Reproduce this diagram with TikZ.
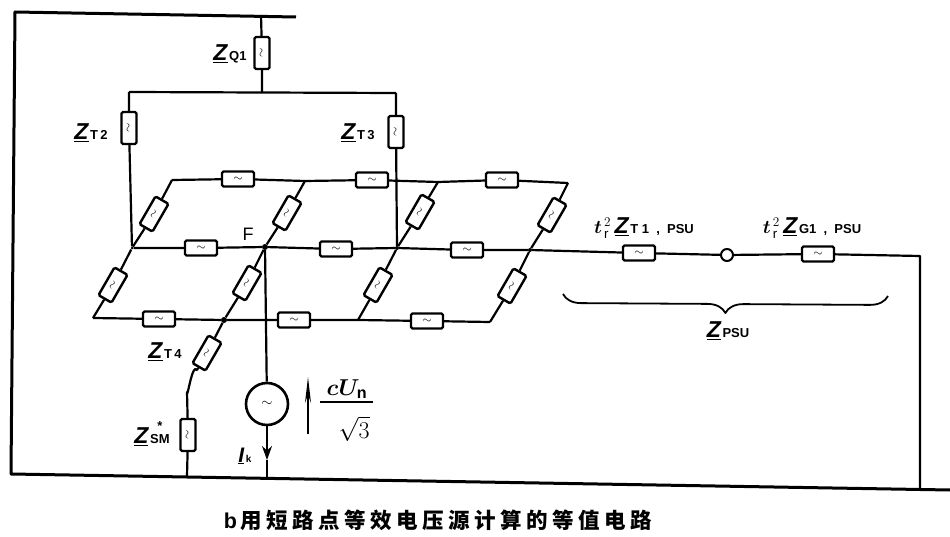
\documentclass[tikz,border=0pt]{standalone}
\usepackage{fix-cm}
\usepackage{amsmath}
\usepackage{fontspec}
\setmainfont{Liberation Sans}
\newfontfamily\cjk[LetterSpace=21]{Noto Sans CJK SC}
\usetikzlibrary{
  calc,
  arrows.meta,
  decorations.pathreplacing
}
\def\zname#1{\underline{\fontsize{23}{23}\selectfont\bfseries\itshape Z}\,{\fontsize{13}{13}\selectfont\bfseries #1}}
\def\tfac{{\fontsize{19}{19}\selectfont$\boldsymbol{t}^{\,\scriptstyle 2}_{\,\scriptstyle\mathrm{r}}$}\,}
\tikzset{
  wire/.style={line width=2.2pt,line join=round},
  bus/.style={line width=3pt,line join=round},
  zbox/.style={
    draw,
    fill=white,
    line width=2.4pt,
    rounded corners=1.5pt,
    minimum width=32pt,
    minimum height=15pt,
    inner sep=0pt,
    font=\large
  },
  zup/.style={zbox,rotate=90},
  zdiag/.style={zbox,rotate=60},
  jdot/.style={circle,fill=black,inner sep=0pt,minimum size=6pt},
  zlabel/.style={inner sep=0pt,anchor=center}
}
\begin{document}
\begin{tikzpicture}[x=1pt,y=-1pt]
  \useasboundingbox (0,0) rectangle (950,537);

  % junctions
  \coordinate (topl) at (15,12);
  \coordinate (topr) at (296,17);
  \coordinate (botl) at (11,474);
  \coordinate (botr) at (950,490);
  \coordinate (qtop) at (261,15);
  \coordinate (qbot) at (262,92);
  \coordinate (t2top) at (129,92);
  \coordinate (t3top) at (396,93);
  \coordinate (tl) at (172,180);
  \coordinate (tm) at (305,181);
  \coordinate (tr) at (438,182);
  \coordinate (te) at (568,183);
  \node[jdot,minimum size=3pt] (ml) at (132,248) {};
  \node[jdot] (F) at (265,247) {};
  \node[jdot,minimum size=4pt] (mr) at (397,248) {};
  \node[jdot,minimum size=4pt] (me) at (530,250) {};
  \coordinate (bl) at (93,318);
  \node[jdot] (bm) at (224,320) {};
  \coordinate (br) at (358,320);
  \coordinate (be) at (490,322);
  \coordinate (rcorner) at (920,256);
  \coordinate (rfoot) at (920,488);
  \coordinate (smbend) at (197,370);
  \coordinate (smtop) at (187,392);
  \coordinate (smfoot) at (187,476);
  \coordinate (skfoot) at (267,478);
  \coordinate (iktip) at (267,460);

  % impedances
  \node[zup] (zq) at (262,53) {$\sim$};
  \node[zup] (zt2) at (129,128) {$\sim$};
  \node[zup] (zt3) at (396,132) {$\sim$};
  \node[zbox] (zta) at (238,179) {$\sim$};
  \node[zbox] (ztb) at (372,180) {$\sim$};
  \node[zbox] (ztc) at (502,180) {$\sim$};
  \node[zbox] (zma) at (201,248) {$\sim$};
  \node[zbox] (zmb) at (336,249) {$\sim$};
  \node[zbox] (zmc) at (467,250) {$\sim$};
  \node[zbox] (zba) at (159,319) {$\sim$};
  \node[zbox] (zbb) at (294,320) {$\sim$};
  \node[zbox] (zbc) at (427,321) {$\sim$};
  \node[zdiag] (zda) at (154,214) {$\sim$};
  \node[zdiag] (zdb) at (287,213) {$\sim$};
  \node[zdiag] (zdc) at (420,212) {$\sim$};
  \node[zdiag] (zdd) at (552,215) {$\sim$};
  \node[zdiag] (zea) at (113,285) {$\sim$};
  \node[zdiag] (zeb) at (247,283) {$\sim$};
  \node[zdiag] (zec) at (378,285) {$\sim$};
  \node[zdiag] (zed) at (512,286) {$\sim$};
  \node[zdiag] (zt4) at (207,353) {$\sim$};
  \node[zup] (zsm) at (188,435) {$\sim$};
  \node[zbox] (zpt) at (639,253) {$\sim$};
  \node[zbox] (zpg) at (818,254) {$\sim$};
  \node[circle,draw,line width=2pt,minimum size=12pt,inner sep=0pt] (mid) at (727,255) {};
  \node[circle,draw,line width=2.6pt,minimum size=42pt,inner sep=0pt,font=\Large] (src) at (267,404) {$\sim$};

  % wiring
  \draw[bus] (topr) -- (topl) -- (botl) -- (botr);
  \draw[wire] (qtop) -- (zq) -- (qbot);
  \draw[wire] (t2top) -- (t3top);
  \draw[wire] (t2top) -- (zt2) -- (ml);
  \draw[wire] (t3top) -- (zt3) -- (mr);
  \draw[wire] (tl) -- (zta) -- (tm) -- (ztb) -- (tr) -- (ztc) -- (te);
  \draw[wire] (ml) -- (zma) -- (F) -- (zmb) -- (mr) -- (zmc) -- (me) -- (zpt) -- (mid) -- (zpg) -- (rcorner) -- (rfoot);
  \draw[wire] (bl) -- (zba) -- (bm) -- (zbb) -- (br) -- (zbc) -- (be);
  \draw[wire] (tl) -- (zda) -- (ml) -- (zea) -- (bl);
  \draw[wire] (tm) -- (zdb) -- (F) -- (zeb) -- (bm) -- (zt4) -- (smbend) to[out=120,in=-90] (smtop) -- (zsm) -- (smfoot);
  \draw[wire] (tr) -- (zdc) -- (mr) -- (zec) -- (br);
  \draw[wire] (te) -- (zdd) -- (me) -- (zed) -- (be);
  \draw[wire] (F) -- (src);
  \draw[wire,-{Stealth[length=14pt,width=10pt]}] (src) -- (iktip);
  \draw[wire] (iktip) -- (skfoot);

  % voltage arrow
  \coordinate (ua) at (308,434);
  \coordinate (ub) at (308,377);
  \draw[wire,-{Stealth[length=26pt,width=6pt]}] (ua) -- (ub);

  % brace under the PSU
  \coordinate (bra) at (888,296);
  \coordinate (brb) at (563,294);
  \draw[wire,line width=1.8pt,decorate,decoration={brace,amplitude=18pt}] (bra) -- (brb);

  % fraction bar
  \coordinate (fracl) at (320,402);
  \coordinate (fracr) at (373,402);
  \draw[wire] (fracl) -- (fracr);

  % labels
  \node[zlabel] (lq) at (230,54) {\zname{Q1}};
  \node[zlabel] (lt2) at (91,133) {\zname{T\,2}};
  \node[zlabel] (lt3) at (358,133) {\zname{T\,3}};
  \node[zlabel] (lt4) at (165,352) {\zname{T\,4}};
  \node[zlabel] (lsm) at (152,437) {\zname{SM}};
  \node[zlabel] (lsmstar) at (160,426) {\fontsize{13}{13}\selectfont\bfseries *};
  \node[zlabel] (lik) at (245,456) {\underline{\fontsize{21}{21}\selectfont\bfseries\itshape I}\,{\fontsize{10}{10}\selectfont\bfseries k}};
  \node[zlabel,font=\fontsize{18}{18}\selectfont] (lF) at (248,234) {F};
  \node[zlabel] (lpt) at (644,228) {\tfac\,\zname{T\;1\;\;,\;\;PSU}};
  \node[zlabel] (lpg) at (812,228) {\tfac\,\zname{G1\;\;,\;\;PSU}};
  \node[zlabel] (lpsu) at (728,331) {\zname{PSU}};
  \node[zlabel,font=\fontsize{23}{25}\selectfont] (lnum) at (347,389) {$\boldsymbol{cU_{\mathrm{n}}}$};
  \node[zlabel,font=\fontsize{24}{26}\selectfont] (lden) at (354,429) {$\sqrt{3}$};
  \node[zlabel,font=\fontsize{21.5}{24}\selectfont\bfseries] (lcap) at (438,520)
    {b\,{\cjk 用短路点等效电压源计算的等值电路}};
\end{tikzpicture}
\end{document}
